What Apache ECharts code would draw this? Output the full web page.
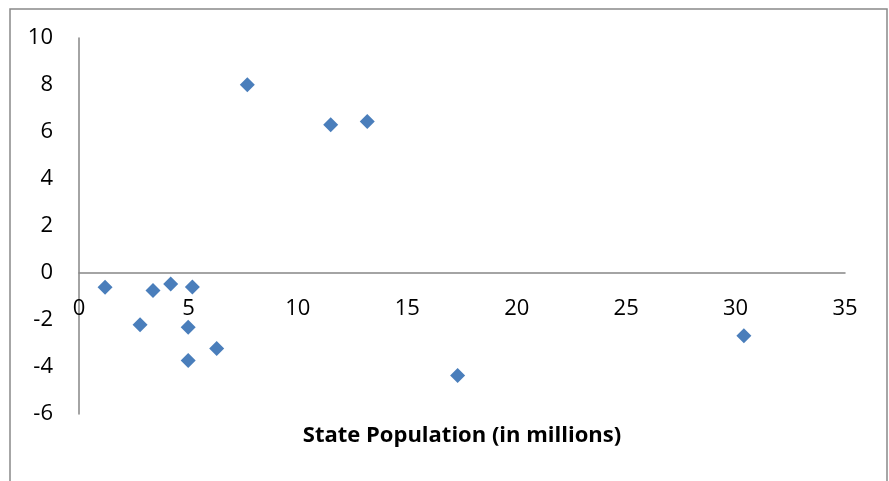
<!DOCTYPE html>
<html>
<head>
<meta charset="utf-8">
<script src="https://cdn.jsdelivr.net/npm/echarts@6/dist/echarts.min.js"></script>
<style>html,body{margin:0;padding:0;background:#fff;}#c{width:889px;height:481px;}</style>
</head>
<body>
<div id="c"></div>
<script>
// State population (millions)
const popX = [1.19, 2.79, 3.38, 4.19, 5.18, 4.99, 4.99, 6.29, 7.69, 11.5, 13.17, 17.3, 30.38];
// Change values
const valY = [-0.61, -2.20, -0.74, -0.47, -0.60, -2.31, -3.72, -3.21, 8.01, 6.31, 6.45, -4.36, -2.67];
const xTicks = {min: 0, max: 35, interval: 5};
const yTicks = {min: -6, max: 10, interval: 2};
const xTitle = 'State Population (in millions)';

const points = popX.map((x, i) => [x, valY[i]]);
const chart = echarts.init(document.getElementById('c'));
const fontFam = '"Open Sans", "Liberation Sans", sans-serif';
chart.setOption({
  animation: false,
  backgroundColor: '#ffffff',
  graphic: [{
    type: 'rect', silent: true,
    shape: {x: 10, y: 9, width: 877, height: 520},
    style: {fill: 'none', stroke: '#898989', lineWidth: 1.5}
  }],
  grid: {left: 79, right: 44, top: 38, bottom: 67, containLabel: false, outerBoundsMode: 'none'},
  xAxis: {
    type: 'value', min: xTicks.min, max: xTicks.max, interval: xTicks.interval,
    axisLine: {show: true, onZero: true, lineStyle: {color: '#868686', width: 1.5}},
    axisTick: {show: false},
    splitLine: {show: false},
    axisLabel: {color: '#000', fontSize: 22, fontFamily: fontFam, margin: -116},
    name: xTitle, nameLocation: 'middle', nameGap: 11,
    nameTextStyle: {color: '#000', fontSize: 22, fontWeight: 'bold', fontFamily: fontFam}
  },
  yAxis: {
    type: 'value', min: yTicks.min, max: yTicks.max, interval: yTicks.interval,
    axisLine: {show: true, onZero: false, lineStyle: {color: '#868686', width: 1.5}},
    axisTick: {show: false},
    splitLine: {show: false},
    axisLabel: {color: '#000', fontSize: 22, fontFamily: fontFam, margin: 26}
  },
  series: [{
    type: 'scatter',
    data: points,
    symbol: 'diamond',
    symbolSize: 15,
    itemStyle: {color: '#4A7EBB', opacity: 1}
  }]
});
</script>
</body>
</html>
